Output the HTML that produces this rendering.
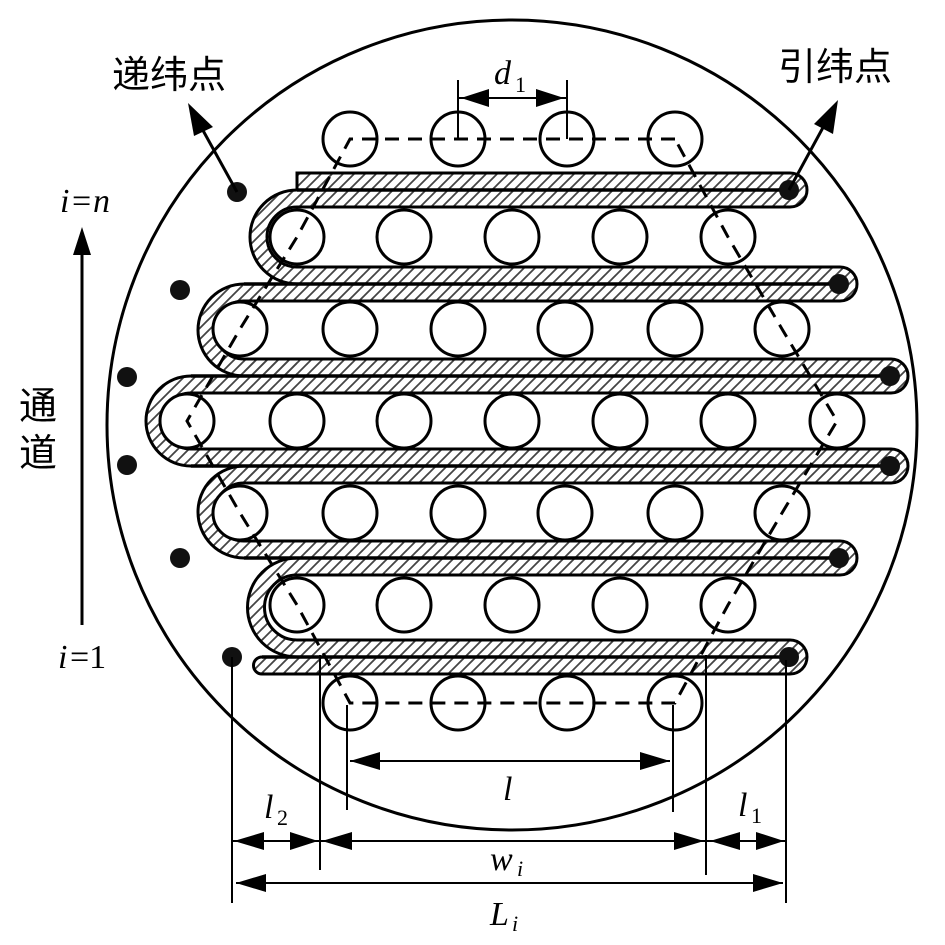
<!DOCTYPE html>
<html><head><meta charset="utf-8"><style>
html,body{margin:0;padding:0;background:#fff;}
svg{display:block;}
</style></head><body>
<svg width="945" height="945" viewBox="0 0 945 945" xmlns="http://www.w3.org/2000/svg">
<defs>
<pattern id="h" patternUnits="userSpaceOnUse" width="11" height="11">
<line x1="-2" y1="13" x2="13" y2="-2" stroke="#444" stroke-width="1.8"/>
<line x1="-13" y1="13" x2="2" y2="-2" stroke="#444" stroke-width="1.8"/>
<line x1="9" y1="13" x2="24" y2="-2" stroke="#444" stroke-width="1.8"/>
</pattern>
</defs>
<rect width="945" height="945" fill="#fff"/>

<!-- hatched strips -->
<g fill="url(#h)">
<path d="M297,173 H790 A17 17 0 0 1 790,207 H297 Z"/>
<path d="M297,267 H840 A17 17 0 0 1 840,301 H297 Z"/>
<path d="M244,359 H891 A17 17 0 0 1 891,393 H244 Z"/>
<path d="M244,449 H891 A17 17 0 0 1 891,483 H244 Z"/>
<path d="M297,541 H840 A17 17 0 0 1 840,575 H297 Z"/>
<path d="M297,640 H790 A17 17 0 0 1 790,674 H262 A8.5 8.5 0 0 1 262,657 H297 Z"/>
<path d="M297,190 A47 47 0 0 0 297,284 Z"/>
<path d="M244,284 A46 46 0 0 0 244,376 H297 V284 Z"/>
<path d="M191,376 A45 45 0 0 0 191,466 H244 V376 Z"/>
<path d="M244,466 A46 46 0 0 0 244,558 H297 V466 Z"/>
<path d="M297,558 A49.5 49.5 0 0 0 297,657 Z"/>
</g>
<!-- white channels -->
<g fill="#fff">
<path d="M900,207 H297 A30 30 0 0 0 297,267 H900 Z"/>
<path d="M900,301 H244 A29 29 0 0 0 244,359 H900 Z"/>
<path d="M900,393 H191 A28 28 0 0 0 191,449 H900 Z"/>
<path d="M900,483 H244 A29 29 0 0 0 244,541 H900 Z"/>
<path d="M900,575 H297 A32.5 32.5 0 0 0 297,640 H900 Z"/>
</g>
<circle cx="512" cy="425" r="405" fill="none" stroke="#000" stroke-width="3"/>

<g fill="none" stroke="#000" stroke-width="3">
<path d="M790,207 H297 A30 30 0 0 0 297,267 H840"/>
<path d="M840,301 H244 A29 29 0 0 0 244,359 H891"/>
<path d="M891,393 H191 A28 28 0 0 0 191,449 H891"/>
<path d="M891,483 H244 A29 29 0 0 0 244,541 H840"/>
<path d="M840,575 H297 A32.5 32.5 0 0 0 297,640 H790"/>
<path d="M790,173 A17 17 0 0 1 790,207"/>
<path d="M840,267 A17 17 0 0 1 840,301"/>
<path d="M891,359 A17 17 0 0 1 891,393"/>
<path d="M891,449 A17 17 0 0 1 891,483"/>
<path d="M840,541 A17 17 0 0 1 840,575"/>
<path d="M790,640 A17 17 0 0 1 790,674"/>
<path d="M297,190 V173 H790"/>
<path d="M790,674 H262 A8.5 8.5 0 0 1 262,657"/>
<path d="M297,190 A47 47 0 0 0 297,284"/>
<path d="M244,284 A46 46 0 0 0 244,376"/>
<path d="M191,376 A45 45 0 0 0 191,466"/>
<path d="M244,466 A46 46 0 0 0 244,558"/>
<path d="M297,558 A49.5 49.5 0 0 0 297,657"/>
<path d="M297,190 H789 M244,284 H839 M191,376 H890 M191,466 H890 M244,558 H839 M262,657 H789" stroke-width="3.5"/>
</g>

<!-- yarn circles -->
<g fill="#fff" stroke="#000" stroke-width="3">
<circle cx="350" cy="139" r="27"/><circle cx="458" cy="139" r="27"/><circle cx="567" cy="139" r="27"/><circle cx="675" cy="139" r="27"/>
<circle cx="297" cy="237" r="27"/><circle cx="404" cy="237" r="27"/><circle cx="512" cy="237" r="27"/><circle cx="620" cy="237" r="27"/><circle cx="728" cy="237" r="27"/>
<circle cx="240" cy="329" r="27"/><circle cx="350" cy="329" r="27"/><circle cx="458" cy="329" r="27"/><circle cx="565" cy="329" r="27"/><circle cx="675" cy="329" r="27"/><circle cx="782" cy="329" r="27"/>
<circle cx="187" cy="421" r="27"/><circle cx="297" cy="421" r="27"/><circle cx="404" cy="421" r="27"/><circle cx="512" cy="421" r="27"/><circle cx="620" cy="421" r="27"/><circle cx="728" cy="421" r="27"/><circle cx="837" cy="421" r="27"/>
<circle cx="240" cy="513" r="27"/><circle cx="350" cy="513" r="27"/><circle cx="458" cy="513" r="27"/><circle cx="565" cy="513" r="27"/><circle cx="675" cy="513" r="27"/><circle cx="782" cy="513" r="27"/>
<circle cx="297" cy="605" r="27"/><circle cx="404" cy="605" r="27"/><circle cx="512" cy="605" r="27"/><circle cx="620" cy="605" r="27"/><circle cx="728" cy="605" r="27"/>
<circle cx="350" cy="703" r="27"/><circle cx="458" cy="703" r="27"/><circle cx="567" cy="703" r="27"/><circle cx="675" cy="703" r="27"/>
</g>

<path d="M675,139 H350 L297,237 L240,329 L187,421 L240,513 L297,605 L350,703 H675 L728,605 L782,513 L837,421 L782,329 L728,237 L675,139" fill="none" stroke="#000" stroke-width="3" stroke-dasharray="14 9"/>

<!-- dots -->
<g fill="#111">
<circle cx="789" cy="190" r="10"/><circle cx="839" cy="284" r="10"/><circle cx="890" cy="376" r="10"/><circle cx="890" cy="466" r="10"/><circle cx="839" cy="558" r="10"/><circle cx="789" cy="657" r="10"/>
<circle cx="237" cy="192" r="10"/><circle cx="180" cy="290" r="10"/><circle cx="127" cy="377" r="10"/><circle cx="127" cy="465" r="10"/><circle cx="180" cy="558" r="10"/><circle cx="232" cy="657" r="10"/>
</g>

<!-- pointer arrows -->
<g stroke="#000" stroke-width="3" fill="none">
<line x1="237" y1="192" x2="200" y2="125"/>
<line x1="789" y1="190" x2="826" y2="122"/>
<line x1="82" y1="625" x2="82" y2="245"/>
</g>
<g fill="#000">
<polygon points="188,103 213,127 194,136"/>
<polygon points="838,100 833,134 814,124"/>
<polygon points="82,227 91,255 73,255"/>
</g>

<!-- dimension lines -->
<g stroke="#000" stroke-width="2">
<line x1="458" y1="80" x2="458" y2="139"/>
<line x1="567" y1="80" x2="567" y2="139"/>
<line x1="458" y1="98" x2="567" y2="98"/>
<line x1="232" y1="657" x2="232" y2="903"/>
<line x1="320" y1="655" x2="320" y2="870"/>
<line x1="347" y1="705" x2="347" y2="810"/>
<line x1="673" y1="705" x2="673" y2="812"/>
<line x1="706" y1="655" x2="706" y2="875"/>
<line x1="786" y1="660" x2="786" y2="903"/>
<line x1="350" y1="761" x2="670" y2="761"/>
<line x1="232" y1="841" x2="786" y2="841"/>
<line x1="236" y1="883" x2="783" y2="883"/>
</g>
<g fill="#000">
<polygon points="461,98 489,89 489,107"/><polygon points="564,98 536,89 536,107"/>
<polygon points="350,761 380,752 380,770"/><polygon points="670,761 640,752 640,770"/>
<polygon points="234,841 264,832 264,850"/><polygon points="318,841 290,832 290,850"/>
<polygon points="322,841 352,832 352,850"/><polygon points="704,841 674,832 674,850"/>
<polygon points="710,841 740,832 740,850"/><polygon points="784,841 756,832 756,850"/>
<polygon points="236,883 266,874 266,892"/><polygon points="783,883 753,874 753,892"/>
</g>

<!-- labels -->
<g style="font-family:'Liberation Sans','Noto Sans CJK SC',sans-serif;font-size:38px">
<text x="112" y="88">递纬点</text>
<text x="778" y="80">引纬点</text>
<text x="19" y="419">通</text>
<text x="19" y="466">道</text>
</g>
<g style="font-family:'Liberation Serif',serif;font-size:34px">
<text x="60" y="212" style="font-style:italic">i</text><text x="72" y="212">=</text><text x="93" y="212" style="font-style:italic">n</text>
<text x="58" y="668" style="font-style:italic">i</text><text x="70" y="668">=1</text>
<text x="494" y="84" style="font-style:italic">d</text><text x="515" y="92" style="font-size:22px">1</text>
<text x="503" y="800" style="font-style:italic">l</text>
<text x="264" y="818" style="font-style:italic">l</text><text x="277" y="825" style="font-size:22px">2</text>
<text x="738" y="816" style="font-style:italic">l</text><text x="751" y="823" style="font-size:22px">1</text>
<text x="490" y="870" style="font-style:italic">w</text><text x="517" y="876" style="font-style:italic;font-size:22px">i</text>
<text x="490" y="925" style="font-style:italic">L</text><text x="512" y="931" style="font-style:italic;font-size:22px">i</text>
</g>
</svg>
</body></html>
